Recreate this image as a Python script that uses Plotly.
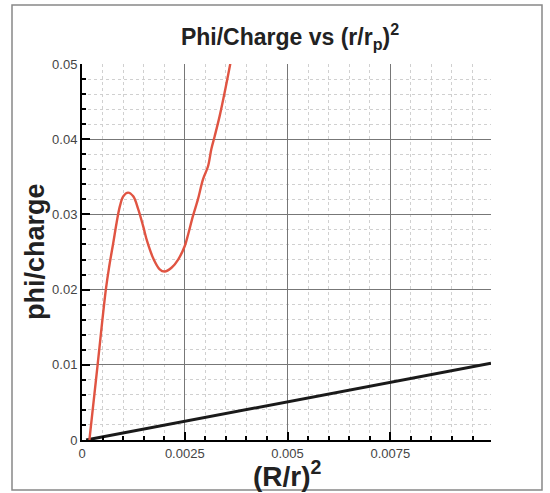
import plotly.graph_objects as go

# Red curve: phi/charge
red_x = [0.00018, 0.00038, 0.00058, 0.000663, 0.00076, 0.000842, 0.000922, 0.001003, 0.00112,
         0.001246, 0.001367, 0.001489, 0.001586, 0.00173, 0.00189, 0.00201, 0.002177, 0.002339,
         0.0025, 0.00258, 0.0027, 0.00282, 0.002945, 0.003066, 0.003147, 0.003228, 0.00335,
         0.00347, 0.00361]
red_y = [0.0, 0.010, 0.0200, 0.0231, 0.0262, 0.0289, 0.0311, 0.0324, 0.0329,
         0.0324, 0.0307, 0.0284, 0.0264, 0.0242, 0.0227, 0.0224, 0.0229, 0.0240,
         0.0258, 0.0273, 0.0298, 0.0320, 0.0347, 0.0364, 0.0387, 0.0404, 0.0431,
         0.0462, 0.0501]

# Black reference line
blk_x = [0.0001, 0.00995]
blk_y = [0.0, 0.0102]

x_ticks = [0, 0.0025, 0.005, 0.0075]
x_labels = ["0", "0.0025", "0.005", "0.0075"]
y_ticks = [0, 0.01, 0.02, 0.03, 0.04, 0.05]
y_labels = ["0", "0.01", "0.02", "0.03", "0.04", "0.05"]

FONT = "Liberation Sans, Arial, sans-serif"
L, R, T, B = 82, 59, 64, 53
PW, PH = 550 - L - R, 493 - T - B

fig = go.Figure()
fig.add_trace(go.Scatter(x=blk_x, y=blk_y, mode="lines",
                         line=dict(color="#1a1a1a", width=3), showlegend=False))
fig.add_trace(go.Scatter(x=red_x, y=red_y, mode="lines", line_shape="spline",
                         line=dict(color="#e05442", width=2.4), showlegend=False))

fig.update_layout(
    width=550, height=493,
    margin=dict(l=L, r=R, t=T, b=B),
    paper_bgcolor="white", plot_bgcolor="white",
    font=dict(family=FONT, color="#333"),
    title=dict(text="<b>Phi/Charge vs (r/r<sub>p</sub>)<sup>2</sup></b>",
               x=290 / 550, xanchor="center", y=1 - 37 / 493, yanchor="middle",
               font=dict(size=23, color="#222", family=FONT)),
    xaxis=dict(range=[0, 0.00995], tickvals=x_ticks, ticktext=x_labels,
               showline=True, linecolor="black", linewidth=2,
               ticks="inside", ticklen=8, tickwidth=2, tickcolor="black",
               showgrid=True, gridcolor="#777", gridwidth=1, zeroline=False,
               tickfont=dict(size=13, color="#444"),
               minor=dict(dtick=0.0005, ticks="inside", ticklen=4, tickcolor="black",
                          showgrid=True, gridcolor="#d0d0d0", griddash="dot", gridwidth=1)),
    yaxis=dict(range=[0, 0.05], tickvals=y_ticks, ticktext=y_labels,
               showline=True, linecolor="black", linewidth=2,
               ticks="inside", ticklen=8, tickwidth=2, tickcolor="black",
               showgrid=True, gridcolor="#777", gridwidth=1, zeroline=False,
               tickfont=dict(size=13, color="#444"),
               minor=dict(dtick=0.002, ticks="inside", ticklen=4, tickcolor="black",
                          showgrid=True, gridcolor="#d0d0d0", griddash="dot", gridwidth=1)),
    annotations=[
        dict(text="<b>phi/charge</b>", textangle=-90, showarrow=False,
             xref="paper", yref="paper", x=(35 - L) / PW, y=(440 - 252) / PH,
             xanchor="center", yanchor="middle",
             font=dict(size=27, color="#222", family=FONT)),
        dict(text="<b>(R/r)<sup>2</sup></b>", showarrow=False,
             xref="paper", yref="paper", x=(287 - L) / PW, y=(440 - 474) / PH,
             xanchor="center", yanchor="middle",
             font=dict(size=28, color="#222", family=FONT)),
    ],
    shapes=[dict(type="rect", xref="paper", yref="paper",
                 x0=(12 - L) / PW, x1=(542 - L) / PW,
                 y0=(440 - 490) / PH, y1=(440 - 5) / PH,
                 line=dict(color="#888", width=1.5), layer="below")],
)

fig.write_html("out.html")
